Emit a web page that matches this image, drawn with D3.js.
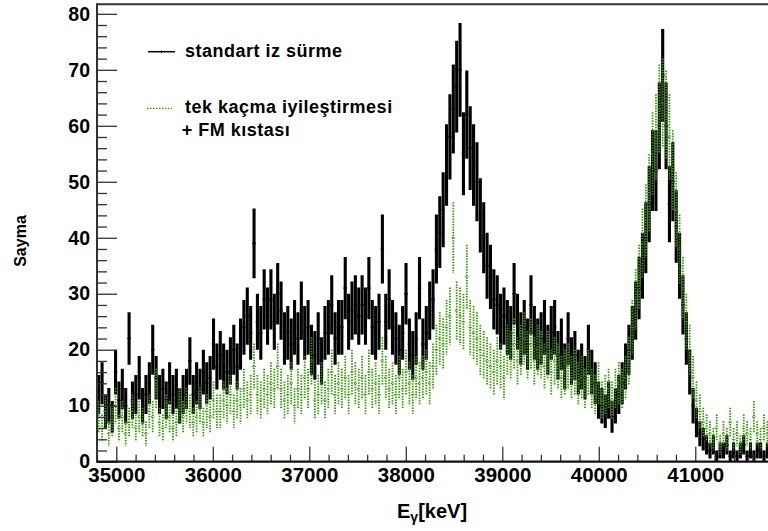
<!DOCTYPE html>
<html>
<head>
<meta charset="utf-8">
<script src="https://cdn.jsdelivr.net/npm/d3@7"></script>
<style>
  body { margin: 0; background: #fff; }
  svg { display: block; font-family: "Liberation Sans", Arial, sans-serif; font-weight: bold; }
</style>
</head>
<body>
<svg id="chart" width="768" height="531"></svg>
<script>

// histogram binning (keV)
var binStart = 34800, binWidth = 35;

// counts per bin
var standart = [
  12, 14, 9, 10, 8, 16, 11, 13, 10, 22,
  11, 12, 15, 10, 12, 14, 20, 15, 12, 13,
  11, 14, 12, 13, 10, 12, 13, 18, 12, 14,
  13, 16, 14, 15, 21, 17, 19, 17, 16, 18,
  20, 17, 21, 24, 26, 23, 39, 25, 23, 29,
  26, 29, 25, 30, 27, 22, 23, 21, 24, 22,
  27, 23, 24, 20, 19, 22, 18, 23, 24, 28,
  22, 24, 24, 31, 25, 27, 28, 26, 28, 26,
  31, 24, 23, 25, 38, 25, 29, 24, 22, 20,
  23, 30, 21, 19, 22, 31, 21, 23, 27, 29,
  38, 41, 45, 53, 58, 63, 67, 70, 55, 62,
  56, 53, 50, 44, 40, 35, 33, 29, 28, 25,
  26, 24, 23, 30, 25, 22, 24, 21, 28, 23,
  21, 22, 24, 20, 23, 24, 19, 21, 17, 22,
  18, 19, 16, 17, 15, 20, 16, 14, 11, 10,
  9, 11, 8, 10, 12, 14, 17, 20, 23, 27,
  31, 35, 40, 46, 52, 52, 60, 69, 60, 46,
  50, 42, 35, 28, 22, 16, 10, 7, 5, 4,
  3, 2, 3, 1, 2, 2, 3, 1, 2, 1,
  2, 3, 1, 2, 1, 2, 2, 1, 2
];

var tekKacma = [
  8, 6, 9, 5, 7, 10, 6, 8, 5, 7,
  9, 6, 8, 7, 5, 9, 8, 13, 7, 6,
  9, 8, 6, 7, 10, 8, 10, 9, 7, 8,
  10, 7, 9, 8, 11, 9, 9, 11, 10, 12,
  9, 11, 10, 13, 11, 12, 17, 12, 11, 13,
  12, 14, 13, 17, 13, 11, 12, 14, 10, 13,
  12, 15, 13, 18, 11, 12, 14, 11, 13, 16,
  12, 14, 13, 15, 12, 16, 14, 13, 15, 12,
  16, 13, 14, 12, 18, 15, 13, 14, 12, 15,
  13, 16, 14, 12, 15, 14, 15, 16, 14, 17,
  20, 22, 21, 24, 26, 40, 27, 26, 25, 33,
  24, 23, 22, 20, 19, 18, 17, 16, 18, 17,
  15, 20, 19, 21, 18, 20, 22, 19, 21, 18,
  20, 19, 17, 19, 16, 18, 17, 15, 16, 17,
  15, 16, 14, 15, 13, 16, 13, 12, 14, 11,
  12, 13, 11, 13, 14, 13, 15, 18, 24, 29,
  33, 39, 43, 48, 55, 58, 63, 64, 62, 58,
  52, 45, 38, 31, 25, 20, 15, 11, 9, 7,
  6, 5, 4, 6, 3, 5, 4, 7, 4, 5,
  3, 6, 5, 4, 8, 5, 4, 6, 5
];

var xMajor = [35000, 36000, 37000, 38000, 39000, 40000, 41000];
var xMinor = [34800, 35200, 35400, 35600, 35800, 36200, 36400, 36600, 36800, 37200, 37400, 37600, 37800,
  38200, 38400, 38600, 38800, 39200, 39400, 39600, 39800, 40200, 40400, 40600, 40800, 41200, 41400, 41600];
var yMajor = [0, 10, 20, 30, 40, 50, 60, 70, 80];
var yMinor = [2, 4, 6, 8, 12, 14, 16, 18, 22, 24, 26, 28, 32, 34, 36, 38, 42, 44, 46, 48,
  52, 54, 56, 58, 62, 64, 66, 68, 72, 74, 76, 78];

var legendLabels = ["standart iz sürme", "tek kaçma iyileştirmesi", "+ FM kıstası"];

var green = "#339900";

var svg = d3.select("#chart");

var padL = 97, padR = 768.6, padT = 4.3, padB = 461.7;

var x = d3.scaleLinear().domain([34800, 41760]).range([padL, padR]);
var y = d3.scaleLinear().domain([0, 81.7]).range([padB, padT]);

svg.append("clipPath").attr("id", "plotclip")
  .append("rect")
    .attr("x", padL).attr("y", padT)
    .attr("width", padR - padL).attr("height", padB - padT);

var plot = svg.append("g").attr("clip-path", "url(#plotclip)");

/*
  ROOT style histogram with error bars: bin width line at the count,
  vertical bar of +- sqrt(count) at the bin centre
*/
var drawHist = function(values, cls, color, sw, hw, dash) {
  var g = plot.append("g").attr("class", cls)
      .attr("stroke", color)
      .attr("stroke-dasharray", dash);

  g.selectAll("line.err")
      .data(values)
    .enter().append("line")
      .attr("class", "err")
      .attr("x1", function(d, i) { return x(binStart + (i + 0.5) * binWidth); })
      .attr("x2", function(d, i) { return x(binStart + (i + 0.5) * binWidth); })
      .attr("y1", function(d) { return y(d + Math.sqrt(d)); })
      .attr("y2", function(d) { return y(Math.max(0, d - Math.sqrt(d))); })
      .attr("stroke-width", sw);

  g.selectAll("line.bin")
      .data(values)
    .enter().append("line")
      .attr("class", "bin")
      .attr("x1", function(d, i) { return x(binStart + i * binWidth); })
      .attr("x2", function(d, i) { return x(binStart + (i + 1) * binWidth); })
      .attr("y1", function(d) { return y(d); })
      .attr("y2", function(d) { return y(d); })
      .attr("stroke-width", hw);
};

drawHist(standart, "standart", "#000", 3.1, 1.6, null);
drawHist(tekKacma, "tekkacma", green, 1.8, 1.3, "1.5,1.2");

// axes
var axes = svg.append("g").attr("class", "axes");

var yAxis = axes.append("g")
    .attr("transform", "translate(" + padL + ",0)")
    .call(d3.axisLeft(y).tickValues(yMajor).tickSize(-20).tickPadding(7).tickFormat(d3.format("d")));
axes.append("g")
    .attr("transform", "translate(" + padL + ",0)")
    .call(d3.axisLeft(y).tickValues(yMinor).tickSize(-10).tickFormat(""));

var xAxis = axes.append("g")
    .attr("transform", "translate(0," + padB + ")")
    .call(d3.axisBottom(x).tickValues(xMajor).tickSize(-15).tickPadding(6).tickFormat(d3.format("d")));
axes.append("g")
    .attr("transform", "translate(0," + padB + ")")
    .call(d3.axisBottom(x).tickValues(xMinor).tickSize(-7).tickFormat(""));

axes.selectAll(".domain").remove();
axes.selectAll(".tick line").attr("stroke", "#333").attr("stroke-width", 1.3);
yAxis.selectAll("text").attr("font-size", 19.5).attr("font-family", null).attr("fill", "#000");
xAxis.selectAll("text").attr("font-size", 20.5).attr("font-family", null).attr("fill", "#000");

// frame
axes.append("line").attr("x1", padL).attr("x2", padL).attr("y1", padT - 1).attr("y2", padB + 1)
    .attr("stroke", "#333").attr("stroke-width", 2);
axes.append("line").attr("x1", padL).attr("x2", 768).attr("y1", padB).attr("y2", padB)
    .attr("stroke", "#111").attr("stroke-width", 2.2);
axes.append("line").attr("x1", padL).attr("x2", 768).attr("y1", padT).attr("y2", padT)
    .attr("stroke", "#333").attr("stroke-width", 2);

// titles
var xt = svg.append("text").attr("x", 397).attr("y", 518).attr("font-size", 20);
xt.append("tspan").text("E");
xt.append("tspan").attr("font-size", 14).attr("dy", 4).text("γ");
xt.append("tspan").attr("dy", -4).text("[keV]");

svg.append("text")
    .attr("transform", "translate(26,241) rotate(-90)")
    .attr("text-anchor", "middle")
    .attr("font-size", 16)
    .text("Sayma");

// legend
var legend = svg.append("g").attr("class", "legend");

legend.append("line").attr("x1", 148).attr("x2", 175).attr("y1", 51.7).attr("y2", 51.7)
    .attr("stroke", "#000").attr("stroke-width", 1.5);
legend.append("line").attr("x1", 161.5).attr("x2", 161.5).attr("y1", 50.5).attr("y2", 53)
    .attr("stroke", "#000").attr("stroke-width", 1);
legend.append("line").attr("x1", 147).attr("x2", 172).attr("y1", 108.3).attr("y2", 108.3)
    .attr("stroke", green).attr("stroke-width", 1.2).attr("stroke-dasharray", "1.5,1.5");

legend.selectAll("text.lab")
    .data(legendLabels)
  .enter().append("text")
    .attr("class", "lab")
    .attr("x", function(d, i) { return i == 2 ? 181.7 : 185; })
    .attr("y", function(d, i) { return [56.5, 112.5, 136][i]; })
    .attr("font-size", 18)
    .attr("letter-spacing", 0.5)
    .text(function(d) { return d; });

</script>
</body>
</html>
